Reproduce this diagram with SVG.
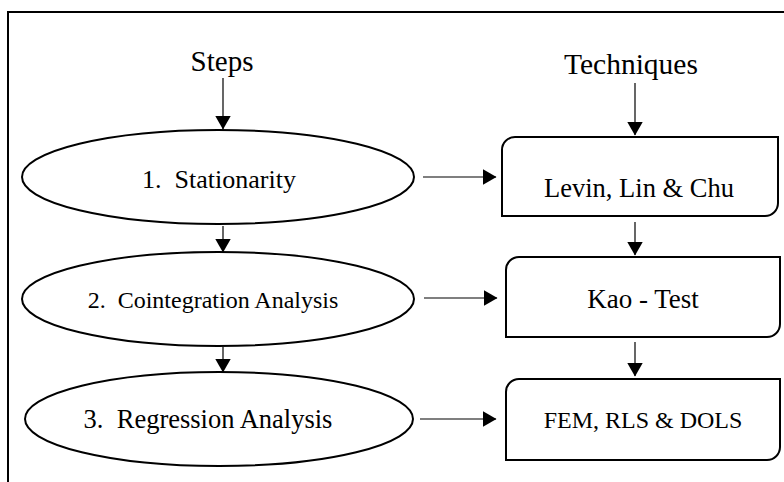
<svg xmlns="http://www.w3.org/2000/svg" width="784" height="482" viewBox="0 0 784 482">
<style>
  .frame{fill:none;stroke:#000;stroke-width:2}
  .shape{fill:#fff;stroke:#000;stroke-width:2}
  .conn{fill:none;stroke:#000;stroke-width:1.2}
  .t{font-family:'Liberation Serif','Times New Roman',Times,serif;fill:#000;text-anchor:middle}
</style>
<defs>
  <marker id="ah" viewBox="0 0 14 16" refX="13.5" refY="8" markerWidth="14" markerHeight="16" markerUnits="userSpaceOnUse" orient="auto">
    <path d="M0,0 L14,8 L0,16 Z" fill="#000"/>
  </marker>
</defs>
<rect width="784" height="482" fill="#fff"/>
<path class="frame" d="M8,482 V12 H784"/>

<g id="steps-label"><text class="t" x="222" y="71" font-size="29">Steps</text></g>
<g id="techniques-label"><text class="t" x="631" y="74" font-size="29.5">Techniques</text></g>

<g id="step1">
  <ellipse class="shape" cx="218" cy="177" rx="196" ry="47"/>
  <text class="t" x="219" y="188" font-size="26" xml:space="preserve">1.  Stationarity</text>
</g>
<g id="step2">
  <ellipse class="shape" cx="218" cy="299" rx="196" ry="47"/>
  <text class="t" x="213" y="308" font-size="24" xml:space="preserve">2.  Cointegration Analysis</text>
</g>
<g id="step3">
  <ellipse class="shape" cx="219" cy="419" rx="194" ry="47"/>
  <text class="t" x="208" y="428" font-size="26.5" xml:space="preserve">3.  Regression Analysis</text>
</g>

<g id="tech1">
  <path class="shape" d="M502,216 V150 A13,13 0 0 1 515,137 H778 V203 A13,13 0 0 1 765,216 Z"/>
  <text class="t" x="639" y="197" font-size="26.5">Levin, Lin &amp; Chu</text>
</g>
<g id="tech2">
  <path class="shape" d="M506,337 V270 A13,13 0 0 1 519,257 H780 V324 A13,13 0 0 1 767,337 Z"/>
  <text class="t" x="643" y="308" font-size="27">Kao - Test</text>
</g>
<g id="tech3">
  <path class="shape" d="M506,460 V392 A13,13 0 0 1 519,379 H780 V447 A13,13 0 0 1 767,460 Z"/>
  <text class="t" x="643" y="428" font-size="24">FEM, RLS &amp; DOLS</text>
</g>

<g id="connectors">
  <line class="conn" x1="223" y1="78" x2="223" y2="129" marker-end="url(#ah)"/>
  <line class="conn" x1="223" y1="226" x2="223" y2="252" marker-end="url(#ah)"/>
  <line class="conn" x1="223" y1="347" x2="223" y2="372" marker-end="url(#ah)"/>
  <line class="conn" x1="635" y1="83" x2="635" y2="135" marker-end="url(#ah)"/>
  <line class="conn" x1="635" y1="222" x2="635" y2="255" marker-end="url(#ah)"/>
  <line class="conn" x1="635" y1="342" x2="635" y2="376" marker-end="url(#ah)"/>
  <line class="conn" x1="423" y1="177" x2="496" y2="177" marker-end="url(#ah)"/>
  <line class="conn" x1="424" y1="298" x2="497" y2="298" marker-end="url(#ah)"/>
  <line class="conn" x1="420" y1="419" x2="496" y2="419" marker-end="url(#ah)"/>
</g>
</svg>
